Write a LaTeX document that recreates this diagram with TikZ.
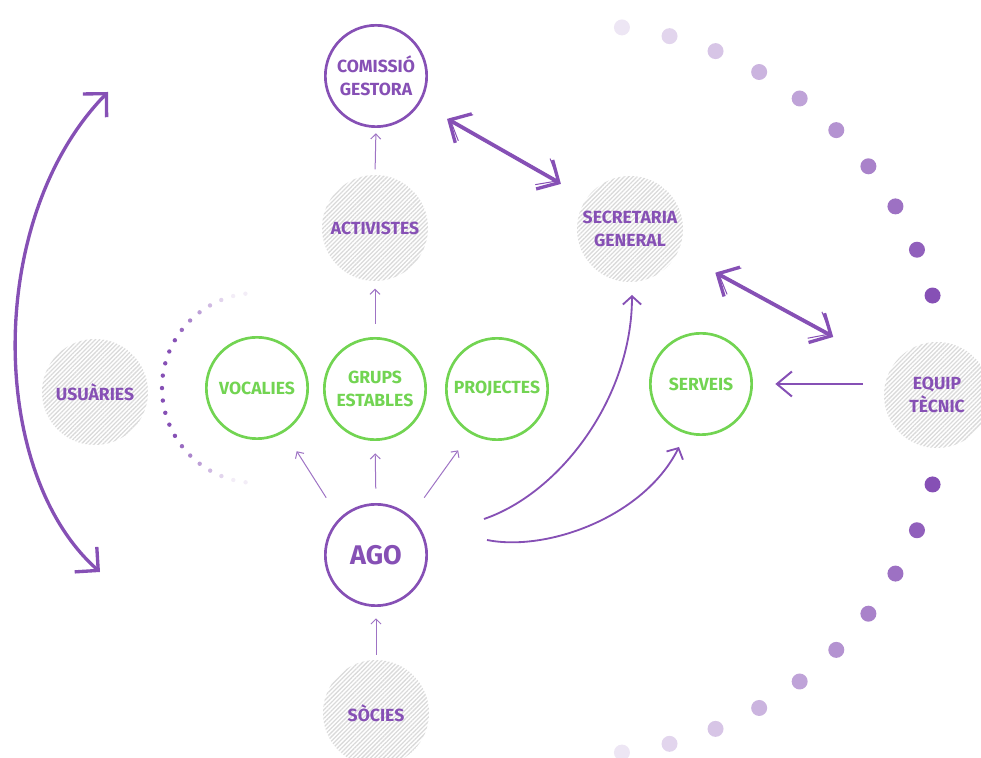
\documentclass[tikz,border=0pt]{standalone}
\usepackage{fontspec}
\setmainfont{Fira Sans}
\usetikzlibrary{arrows.meta,patterns.meta}
\definecolor{lila}{HTML}{8650B5}
\definecolor{verd}{HTML}{72D452}
\definecolor{ratlla}{HTML}{DADADA}

\begin{document}
\begin{tikzpicture}[x=0.3mm,y=0.3mm,every node/.style={align=center,font=\bfseries\fontsize{15}{20}\selectfont},ratllat/.style={circle,minimum size=31.8mm,inner sep=0pt,pattern={Lines[angle=45,distance=2.6pt,line width=1.1pt]},pattern color=ratlla,text=lila},lilacercle/.style={circle,draw=lila,line width=0.8mm,minimum size=30.4mm,inner sep=0pt,text=lila},verdcercle/.style={circle,draw=verd,line width=0.8mm,minimum size=30.4mm,inner sep=0pt,text=verd},fletxa/.style={lila!80,line width=0.3mm,-{Straight Barb[length=1.5mm,width=3mm]}},corba/.style={lila,line width=0.55mm,-{Straight Barb[length=2.5mm,width=5.5mm]}},recta/.style={lila,line width=0.6mm,-{Straight Barb[length=4.5mm,width=7.5mm]}},doble/.style={lila,line width=1mm,{Straight Barb[length=5mm,width=10mm]}-{Straight Barb[length=5mm,width=10mm]}},esbos/.style={lila,line width=0.3mm,{Straight Barb[length=5.5mm,width=9mm]}-{Straight Barb[length=5.5mm,width=9mm]}}]
\useasboundingbox (0,0) rectangle (981,758);
\node[lilacercle] (com) at (376,682) {COMISSIÓ\\GESTORA};
\node[ratllat] (act) at (375,530) {ACTIVISTES};
\node[ratllat] (sec) at (630,529) {SECRETARIA\\GENERAL};
\node[ratllat] (usu) at (95,366) {USUÀRIES};
\node[verdcercle] (voc) at (257,370) {VOCALIES};
\node[verdcercle] (gru) at (375,369) {GRUPS\\ESTABLES};
\node[verdcercle] (pro) at (497,369) {PROJECTES};
\node[verdcercle] (ser) at (701,374) {SERVEIS};
\node[ratllat] (equ) at (937,363) {EQUIP\\TÈCNIC};
\node[lilacercle,font=\bfseries\fontsize{23}{27}\selectfont] (ago) at (376,203) {AGO};
\node[ratllat] (soc) at (376,45) {SÒCIES};
\coordinate (usua) at (108,666);
\coordinate (usub) at (100,186);
\coordinate (arcr) at (580,368);
\draw[fletxa,shorten <=1.5mm,shorten >=1.6mm] (act.north) -- (com.south);
\draw[fletxa,shorten <=4mm,shorten >=2.1mm] (gru.north) -- (act.south);
\draw[fletxa,shorten <=1.5mm,shorten >=3.4mm] (soc.north) -- (ago.south);
\draw[fletxa,shorten <=4.3mm,shorten >=3.7mm] (ago.north) -- (gru.south);
\draw[fletxa,shorten <=7.3mm,shorten >=6.8mm] (ago.135) -- (voc.-58);
\draw[fletxa,shorten <=6.9mm,shorten >=6.2mm] (ago.48) -- (pro.-121);
\draw[corba] ([shift={(108,36)}]ago.center) .. controls +(76,26) and +(0,-103) .. ([shift={(2,-66)}]sec.center);
\draw[corba] ([shift={(111,15)}]ago.center) .. controls +(60,-12) and +(-35,-70) .. ([shift={(-22,-63)}]ser.center);
\draw[recta,shorten <=6.3mm,shorten >=6.7mm] (equ.west |- ser) -- (ser.east);
\draw[doble,shorten <=9.3mm,shorten >=8.8mm] (com.-32) -- (sec.145);
\draw[esbos,shorten <=9.8mm,shorten >=9.6mm,transform canvas={shift={(0.2mm,0.45mm)}}] (com.-32) -- (sec.145);
\draw[doble,shorten <=12.8mm,shorten >=19.7mm] (sec.-26) -- (equ.150);
\draw[esbos,shorten <=13.3mm,shorten >=20.5mm,transform canvas={shift={(0.2mm,0.45mm)}}] (sec.-26) -- (equ.150);
\draw[doble] (usub) .. controls (-12,285) and (-15,540) .. (usua);
\foreach \k in {0,...,22}{
\pgfmathsetmacro\ang{97+\k*7.55}
\pgfmathsetmacro\op{max(0.1,min(1,1-(abs(\ang-180)-30)/50))}
\fill[lila,opacity=\op] (voc.center) ++(\ang:95) circle[radius=2.2];
}
\foreach \k in {0,...,9}{
\pgfmathsetmacro\op{1-\k*0.095}
\fill[lila,opacity=\op] (arcr) ++(15+\k*7.6:365) circle[radius=8];
\fill[lila,opacity=\op] (arcr) ++(-15-\k*7.6:365) circle[radius=8];
}
\end{tikzpicture}
\end{document}
